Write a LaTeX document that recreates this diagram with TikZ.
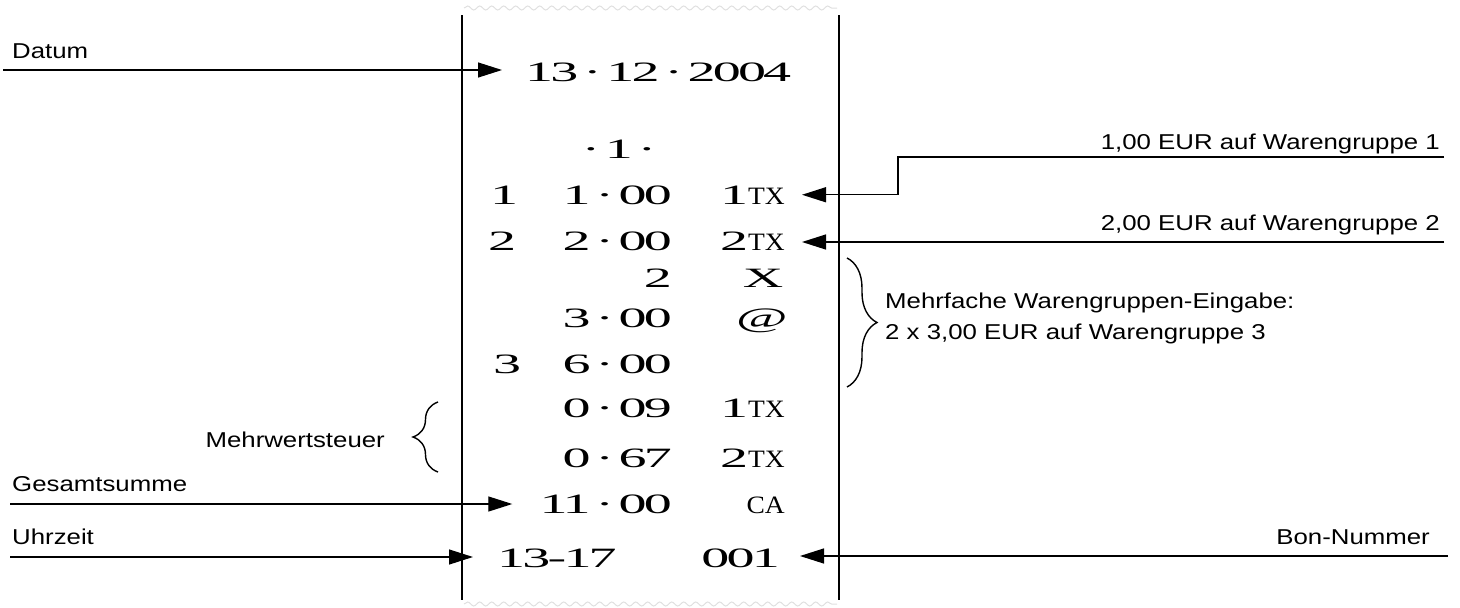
\documentclass[tikz,border=0pt]{standalone}
\usepackage{fontspec}
\setmainfont{Liberation Serif}
\newfontfamily\tagfont[FakeStretch=1.2]{Liberation Sans}
\newfontfamily\bonfont[FakeStretch=2.0,LetterSpace=-10]{Liberation Serif}
\newfontfamily\codefont[FakeStretch=1.1]{Liberation Serif}
\newcommand\kz[1]{{\codefont\fontsize{25}{29}\selectfont #1}}
\newcommand\pkt{\,·\,}
\usetikzlibrary{arrows.meta,decorations.pathmorphing,decorations.pathreplacing}
\tikzset{
  post/.style  = {-{Triangle[length=24pt,width=15pt]}, line width=1.3pt},
  tag/.style   = {inner sep=0pt, font=\tagfont\fontsize{21.5}{26}\selectfont},
  bon/.style   = {inner sep=0pt, font=\bonfont\fontsize{28}{32}\selectfont},
  paper/.style = {line width=2pt},
  tear/.style  = {gray!25, line width=1pt, decorate,
                  decoration={snake, amplitude=2pt, segment length=12pt}},
  curly/.style = {line width=1.4pt, decorate, decoration={brace, amplitude=#1}}
}

\begin{document}
\begin{tikzpicture}[x=1pt, y=-1pt]
  \useasboundingbox (0,0) rectangle (1460,608);
  % Bonstreifen
  \draw[paper] (462,15) -- (462,600);
  \draw[paper] (839,15) -- (839,600);
  \draw[tear] (464,8) -- (837,8);
  \draw[tear] (464,604) -- (837,604);

  % Bon
  \node[bon, anchor=base west] (date)     at (525,81)  {13\pkt 12\pkt 2004};
  \node[bon, anchor=base]      (kasse)    at (619,158) {\pkt 1\pkt};
  \node[bon, anchor=base west] (grp1)     at (490,204) {1};
  \node[bon, anchor=base east] (betrag1)  at (672,204) {1\pkt 00};
  \node[bon, anchor=base east] (kz1)      at (785,204) {1\kz{TX}};
  \node[bon, anchor=base west] (grp2)     at (488,250) {2};
  \node[bon, anchor=base east] (betrag2)  at (672,250) {2\pkt 00};
  \node[bon, anchor=base east] (kz2)      at (785,250) {2\kz{TX}};
  \node[bon, anchor=base east] (menge)    at (672,287) {2};
  \node[bon, anchor=base]      (mal)      at (763,287) {X};
  \node[bon, anchor=base east] (preis)    at (672,327) {3\pkt 00};
  \node[bon, anchor=base]      (preisat)  at (762,327) {@};
  \node[bon, anchor=base west] (grp3)     at (493,373) {3};
  \node[bon, anchor=base east] (betrag3)  at (672,373) {6\pkt 00};
  \node[bon, anchor=base east] (mwst1)    at (672,417) {0\pkt 09};
  \node[bon, anchor=base east] (kz3)      at (785,417) {1\kz{TX}};
  \node[bon, anchor=base east] (mwst2)    at (672,467) {0\pkt 67};
  \node[bon, anchor=base east] (kz4)      at (785,467) {2\kz{TX}};
  \node[bon, anchor=base east] (summe)    at (672,513) {11\pkt 00};
  \node[bon, anchor=base east] (bar)      at (785,513) {\kz{CA}};
  \node[bon, anchor=base west] (zeit)     at (497,567) {13-17};
  \node[bon, anchor=base east] (bonzahl)  at (780,567) {001};

  % Beschriftung links
  \node[tag, anchor=base west] (datum) at (12,58) {Datum};
  \coordinate (datumline) at (3,70);
  \draw[post, shorten >=23pt] (datumline) -- (datumline -| date.west);

  \node[tag, anchor=base east] (mwst) at (385,447) {Mehrwertsteuer};
  \draw[curly=25pt] (438,472) -- (438,402);

  \node[tag, anchor=base west] (gesamt) at (12,491) {Gesamtsumme};
  \coordinate (gesamtline) at (10,504);
  \draw[post, shorten >=27pt] (gesamtline) -- (gesamtline -| summe.west);

  \node[tag, anchor=base west] (uhrzeit) at (12,544) {Uhrzeit};
  \coordinate (uhrzeitline) at (10,557);
  \draw[post, shorten >=24pt] (uhrzeitline) -- (uhrzeitline -| zeit.west);

  % Beschriftung rechts
  \node[tag, anchor=base east] (wgtext1) at (1440,149) {1,00 EUR auf Warengruppe 1};
  \coordinate (wg1line) at (1444,157);
  \draw[post, shorten >=17pt] (wg1line) -- ++(-546,0) |- (kz1.east);

  \node[tag, anchor=base east] (wgtext2) at (1440,230) {2,00 EUR auf Warengruppe 2};
  \coordinate (wg2line) at (1444,242);
  \draw[post, shorten >=17pt] (wg2line) -- (wg2line -| kz2.east);

  \draw[curly=30pt] (847,258) -- (847,387);
  \node[tag, anchor=base west] (mehrfach1) at (885,308) {Mehrfache Warengruppen-Eingabe:};
  \node[tag, anchor=base west] (mehrfach2) at (885,339) {2 x 3,00 EUR auf Warengruppe 3};

  \node[tag, anchor=base east] (bonnummer) at (1430,544) {Bon-Nummer};
  \coordinate (bonline) at (1448,556);
  \draw[post, shorten >=20pt] (bonline) -- (bonline -| bonzahl.east);
\end{tikzpicture}
\end{document}
